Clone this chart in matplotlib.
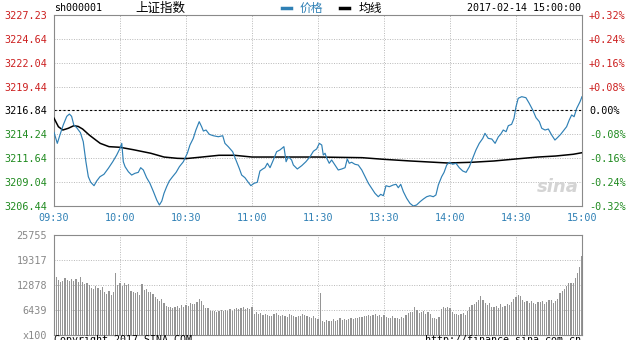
import numpy as np
import matplotlib.pyplot as plt

OUTPUT = "out.png"

PREV_CLOSE = 3216.84
PRICE_TICKS = [3206.44, 3209.04, 3211.64, 3214.24, 3216.84, 3219.44, 3222.04, 3224.64, 3227.23]
PCT_LABELS = ["-0.32%", "-0.24%", "-0.16%", "-0.08%", "0.00%", "+0.08%", "+0.16%", "+0.24%", "+0.32%"]
TIME_LABELS = ["09:30", "10:00", "10:30", "11:00", "11:30", "13:30", "14:00", "14:30", "15:00"]
VOL_TICKS = [6439, 12878, 19317, 25755]

# minutes since 09:30 (lunch break removed) and price
price_min = [0, 1.5, 2.7, 4.2, 5.8, 7, 8, 9, 10.3, 12, 13.3, 14.5, 15.6, 16.7, 18.2, 19.4,
             20.9, 22.7, 24.7, 26.7, 28.5, 30, 30.8, 31.5, 32.3, 33.8, 35.3, 36.8, 38.3,
             39.4, 40.6, 42.1, 43.6, 45.2, 46.7, 47.9, 49, 50, 51.2, 52.4, 53.9, 55.5, 57,
             58.8, 60.6, 61.8, 63.3, 64.5, 66, 67.1, 67.9, 69.1, 70.6, 72.4, 74.7, 76.7,
             77.7, 79.2, 81.2, 82.7, 84.2, 85.3, 86.8, 88.3, 89.5, 90.9, 92.4, 93.6, 94.9,
             95.9, 97, 98.2, 99.7, 101.2, 102.7, 104.5, 105.5, 106.5, 108, 108.8, 110.6,
             112.6, 114.5, 116.4, 117.9, 119.4, 120.6, 121.7, 122.4, 123.2, 124, 125.1,
             126.2, 127.7, 129.2, 130.8, 132.3, 133.3, 134.2, 135.3, 136.8, 138.3, 139.9,
             141.4, 142.9, 144.4, 145.9, 147.4, 148.5, 149.7, 150.9, 152.4, 154.2, 155.5,
             156.5, 157.6, 158.8, 160.3, 161.8, 163.3, 164.8, 166.4, 167.9, 169.4, 170.9,
             172.4, 173.6, 174.7, 176.2, 177.3, 178.5, 179.7, 181.2, 182.7, 184.2, 185.8,
             187.3, 188.8, 190.3, 191.8, 193.3, 194.9, 195.9, 197.4, 199, 200.5, 202, 203,
             204.2, 205.5, 206.5, 208, 209.1, 210, 211, 212.6, 214.5, 216, 217.6, 219.1,
             220.6, 221.7, 223.2, 224.7, 226.2, 227.7, 228.8, 230.3, 231.8, 233, 234.2,
             235.3, 236.4, 237.6, 239.1, 240]
price = [3214.46, 3213.26, 3214.17, 3215.26, 3216.20, 3216.45, 3216.20, 3215.26, 3214.97,
         3214.42, 3213.44, 3211.26, 3209.63, 3209.02, 3208.65, 3209.16, 3209.63, 3209.89,
         3210.54, 3211.26, 3211.99, 3212.72, 3213.26, 3211.26, 3210.72, 3210.17, 3209.81,
         3210.00, 3210.10, 3210.61, 3210.36, 3209.52, 3208.91, 3208.00, 3207.09, 3206.55,
         3206.98, 3207.82, 3208.54, 3209.16, 3209.63, 3210.10, 3210.72, 3211.26, 3212.18,
         3213.08, 3213.80, 3214.71, 3215.62, 3215.07, 3214.60, 3214.71, 3214.24, 3214.09,
         3213.98, 3214.09, 3213.26, 3212.90, 3212.35, 3211.45, 3210.54, 3209.81, 3209.52,
         3209.02, 3208.65, 3208.91, 3209.02, 3210.25, 3210.47, 3210.61, 3211.09, 3210.61,
         3211.45, 3212.35, 3212.54, 3212.90, 3211.26, 3211.81, 3211.45, 3210.90, 3210.47,
         3210.83, 3211.26, 3211.81, 3212.40, 3212.65, 3213.26, 3213.08, 3211.99, 3212.18,
         3211.63, 3211.09, 3211.45, 3210.90, 3210.36, 3210.47, 3210.61, 3211.56, 3211.09,
         3211.20, 3210.98, 3210.90, 3210.36, 3209.63, 3208.91, 3208.37, 3207.82, 3207.45,
         3207.71, 3207.56, 3208.65, 3208.54, 3208.73, 3208.80, 3208.43, 3208.80, 3208.00,
         3207.28, 3206.73, 3206.44, 3206.55, 3206.91, 3207.20, 3207.45, 3207.56, 3207.45,
         3207.64, 3208.73, 3209.63, 3210.10, 3210.90, 3211.20, 3210.98, 3211.09, 3210.61,
         3210.25, 3210.10, 3210.72, 3211.63, 3212.54, 3213.26, 3213.80, 3214.35, 3213.80,
         3213.73, 3213.26, 3213.98, 3214.24, 3214.71, 3214.53, 3215.18, 3215.33, 3215.99,
         3217.25, 3218.16, 3218.34, 3218.23, 3217.62, 3216.89, 3216.05, 3215.62, 3214.90,
         3214.71, 3214.82, 3214.17, 3213.62, 3213.87, 3214.24, 3214.71, 3215.07, 3215.80,
         3216.35, 3216.16, 3217.07, 3217.79, 3218.34]

avg_min = [0, 2, 4, 6.5, 9, 11, 13, 16, 19, 21, 25, 30, 36, 44, 50, 56, 60, 66, 75, 82,
           90, 100, 120, 140, 150, 162, 179, 190, 200, 210, 220, 228, 236, 240]
avg_price = [3216.00, 3215.07, 3214.71, 3214.90, 3215.18, 3215.10, 3214.82, 3214.17,
             3213.62, 3213.26, 3212.90, 3212.83, 3212.57, 3212.18, 3211.77, 3211.63,
             3211.60, 3211.74, 3211.96, 3211.96, 3211.77, 3211.77, 3211.77, 3211.70,
             3211.52, 3211.34, 3211.12, 3211.20, 3211.34, 3211.56, 3211.77, 3211.88,
             3212.07, 3212.24]

# volume per minute (x100 shares)
volume = [
    15000, 14200, 13600, 13900, 14600, 14100, 13800, 14300, 14000, 14500, 13600, 14900, 13700, 13200, 13500,
    13000, 12200, 11800, 12600, 12000, 11500, 12300, 11000, 10600, 11300, 10400, 11200, 16000, 12800, 13400,
    12600, 13300, 12900, 13100, 11400, 11000, 10700, 11200, 10300, 13100, 11600, 11900, 11200, 11000, 10500,
    9900, 9200, 8700, 9400, 8300, 7500, 7100, 7300, 6900, 7200, 7400, 7000, 7600, 7300, 7700,
    7500, 8300, 8100, 7900, 8600, 9300, 8800, 7600, 7000, 6900, 6300, 6200, 6300, 6000, 6200,
    6500, 6100, 6400, 6200, 6600, 6300, 6800, 7000, 6700, 6900, 7100, 6800, 7000, 6600, 7100,
    5500, 5900, 5300, 5700, 5100, 5400, 5200, 4800, 5000, 5300, 5600, 5100, 4900, 5200, 5000,
    4700, 5300, 5100, 4900, 4600, 5000, 4800, 5300, 5200, 4900, 4600, 4400, 4800, 4500, 4200,
    10900, 3600, 3300, 3900, 3500, 3700, 4000, 3600, 3800, 4300, 3900, 4100, 3800, 4000, 4400,
    4200, 4500, 4300, 4700, 4600, 5000, 4800, 5200, 4900, 5100, 5400, 5000, 5200, 4700, 5100,
    4600, 4500, 4400, 4800, 4300, 4500, 4200, 4700, 4400, 5200, 5600, 5800, 6000, 7300, 6400,
    5700, 5900, 6200, 5400, 6000, 5500, 4500, 4300, 4100, 4600, 6600, 7300, 7000, 7200, 6900,
    5800, 5500, 5400, 5200, 5300, 5700, 5100, 6300, 7300, 7600, 8000, 8500, 8900, 10000, 9100,
    8300, 7600, 8200, 7100, 7300, 7500, 6900, 8100, 7200, 7500, 8100, 7700, 8500, 9400, 9900,
    10300, 10100, 9000, 8500, 8800, 8200, 8700, 8300, 7900, 8600, 8400, 8800, 8000, 8600, 9000,
    8900, 8300, 8800, 9200, 10800, 11300, 11900, 12500, 13400, 13500, 13400, 14700, 16000, 17600, 20300,
]

RED = "#cc1f1f"
GREEN = "#1f8a1f"
BLUE = "#2f80b5"
GRID = "#b8b8b8"
FRAME = "#8a8a8a"
MONO = "DejaVu Sans Mono"
CJK = ["Noto Sans CJK SC", "DejaVu Sans"]


def px(x, y):
    return x / 626, 1 - y / 340


def style_axes(ax):
    for s in ax.spines.values():
        s.set_color(FRAME)
        s.set_linewidth(0.8)
    ax.tick_params(length=0)
    ax.set_xlim(0, 240)
    ax.set_xticks(range(0, 241, 30))
    ax.grid(True, color=GRID, linestyle=(0, (1, 1.5)), linewidth=0.7)
    ax.set_axisbelow(True)


def main():
    fig = plt.figure(figsize=(6.26, 3.40), dpi=100)
    ax = fig.add_axes([54 / 626, 134 / 340, 528 / 626, 191 / 340])
    axv = fig.add_axes([54 / 626, 5 / 340, 528 / 626, 100 / 340])

    # price panel
    style_axes(ax)
    ax.set_ylim(PRICE_TICKS[0], PRICE_TICKS[-1])
    ax.set_yticks(PRICE_TICKS)
    ax.set_yticklabels([f"{v:.2f}" for v in PRICE_TICKS], fontfamily=MONO, fontsize=7.3)
    for lbl, v in zip(ax.get_yticklabels(), PRICE_TICKS):
        lbl.set_color(RED if v > PREV_CLOSE + 0.01 else (GREEN if v < PREV_CLOSE - 0.01 else "black"))
    ax.set_xticklabels(TIME_LABELS, fontfamily=MONO, fontsize=7.3, color=BLUE)
    ax.tick_params(axis="x", pad=5)
    ax.tick_params(axis="y", pad=5)
    ax.axhline(PREV_CLOSE, color="black", linestyle=(0, (2, 2)), linewidth=0.8, zorder=2)

    ax.plot(avg_min, avg_price, color="black", linewidth=1.1, zorder=3)
    ax.plot(price_min, price, color=BLUE, linewidth=0.85, zorder=4)

    ax2 = ax.twinx()
    ax2.set_ylim(PRICE_TICKS[0], PRICE_TICKS[-1])
    ax2.set_yticks(PRICE_TICKS)
    ax2.set_yticklabels(PCT_LABELS, fontfamily=MONO, fontsize=7.3)
    for lbl, t in zip(ax2.get_yticklabels(), PCT_LABELS):
        lbl.set_color(RED if t.startswith("+") else (GREEN if t.startswith("-") else "black"))
    ax2.tick_params(length=0, pad=5)
    for s in ax2.spines.values():
        s.set_visible(False)

    ax.text(0.955, 0.1, "sina", transform=ax.transAxes, fontsize=13, fontstyle="italic",
            fontweight="bold", color="#d4d4d4", ha="center", va="center", zorder=1)

    # volume panel
    style_axes(axv)
    axv.set_xticklabels([])
    axv.set_ylim(0, VOL_TICKS[-1])
    axv.set_yticks([0] + VOL_TICKS)
    axv.set_yticklabels(["x100"] + [str(v) for v in VOL_TICKS], fontfamily=MONO,
                        fontsize=7.3, color="#888888")
    axv.tick_params(axis="y", pad=5)
    minutes = np.arange(1, len(volume) + 1)
    axv.bar(minutes, volume, width=0.55, color="#959595", zorder=3)

    # header
    fig.text(*px(54, 8), "sh000001", fontfamily=MONO, fontsize=7.2, va="center", ha="left")
    fig.text(*px(135, 8), "上证指数", family=CJK, fontsize=9, va="center", ha="left")
    fig.add_artist(plt.Line2D([282 / 626, 291 / 626], [1 - 8 / 340] * 2, color=BLUE, linewidth=2.5))
    fig.text(*px(300, 8), "价格", family=CJK, fontsize=8.5, color=BLUE, va="center", ha="left")
    fig.add_artist(plt.Line2D([340 / 626, 349 / 626], [1 - 8 / 340] * 2, color="black", linewidth=2.5))
    fig.text(*px(359, 8), "均线", family=CJK, fontsize=8.5, color="black", va="center", ha="left")
    fig.text(*px(581, 8), "2017-02-14 15:00:00", fontfamily=MONO, fontsize=7.2, va="center", ha="right")

    # footer (cut off by the image edge, as in the source)
    fig.text(*px(54, 335), "Copyright 2017 SINA.COM", fontfamily=MONO, fontsize=7.2, va="top", ha="left")
    fig.text(*px(581, 335), "http://finance.sina.com.cn", fontfamily=MONO, fontsize=7.2, va="top", ha="right")

    fig.savefig(OUTPUT, dpi=100)
    plt.close(fig)


if __name__ == "__main__":
    main()
